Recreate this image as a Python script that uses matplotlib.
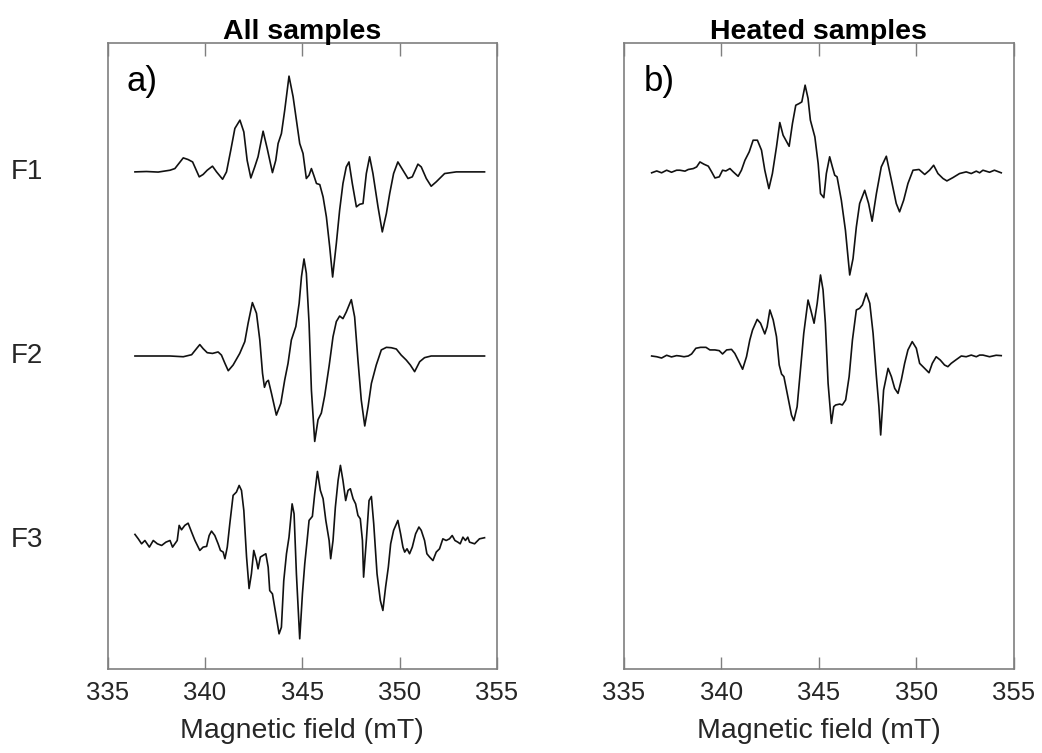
import matplotlib

matplotlib.use("Agg")
import matplotlib.pyplot as plt

plt.rcParams["font.family"] = ["Liberation Sans", "DejaVu Sans"]

# EPR first-derivative spectra (field in mT, amplitude in a.u.)
f1_all_field = [336.41, 337.00, 337.60, 338.21, 338.46, 338.89, 339.14, 339.37, 339.71,
                339.91, 340.12, 340.39, 340.60, 340.91, 341.11, 341.33, 341.54, 341.80,
                342.00, 342.17, 342.36, 342.56, 342.73, 342.99, 343.20, 343.47, 343.64,
                343.76, 343.93, 344.10, 344.32, 344.53, 344.70, 344.87, 345.04, 345.21,
                345.35, 345.47, 345.59, 345.73, 345.90, 346.07, 346.24, 346.41, 346.56,
                346.75, 346.92, 347.09, 347.26, 347.40, 347.57, 347.78, 347.95, 348.12,
                348.29, 348.46, 348.63, 348.89, 349.11, 349.32, 349.49, 349.69, 349.91,
                350.17, 350.43, 350.65, 350.94, 351.11, 351.37, 351.62, 351.88, 352.31,
                352.91, 353.59, 354.36]
f1_all_amp = [0.0, 0.2, -0.1, 0.9, 1.8, 7.6, 6.7, 5.4, -2.7,
              -1.4, 0.9, 3.1, 0.0, -4.0, 0.0, 11.8, 23.6, 28.1,
              21.7, 6.3, -3.3, 2.7, 8.2, 22.1, 12.7, -0.4, 6.3,
              15.4, 20.8, 33.5, 52.0, 40.8, 28.1, 15.4, 10.0, -3.6,
              -1.8, 1.8, -1.8, -6.3, -6.9, -13.6, -24.5, -40.8, -57.1,
              -38.9, -20.8, -6.3, 2.7, 5.4, -6.3, -19.0, -17.6, -17.2,
              -0.9, 8.2, -0.9, -19.0, -32.6, -22.6, -11.8, -0.9, 5.4,
              0.9, -3.6, -2.7, 4.2, 2.7, -3.6, -7.8, -5.4, -0.9,
              0.0, 0.0, 0.0]

f2_all_field = [336.41, 338.21, 338.89, 339.32, 339.57, 339.74, 339.91, 340.12, 340.39,
                340.68, 340.85, 341.03, 341.20, 341.45, 341.79, 342.05, 342.22, 342.44,
                342.65, 342.82, 342.96, 343.06, 343.16, 343.26, 343.42, 343.67, 343.90,
                344.10, 344.27, 344.44, 344.67, 344.84, 344.96, 345.09, 345.21, 345.35,
                345.47, 345.64, 345.81, 345.98, 346.15, 346.38, 346.58, 346.75, 346.92,
                347.09, 347.26, 347.52, 347.69, 347.86, 348.03, 348.21, 348.38, 348.55,
                348.80, 349.06, 349.32, 349.57, 349.83, 350.08, 350.34, 350.55, 350.77,
                351.03, 351.28, 351.62, 353.59, 354.36]
f2_all_amp = [0.0, 0.0, -0.4, 0.7, 4.0, 6.2, 4.0, 1.8, 1.4,
              2.2, 0.5, -4.0, -8.0, -4.9, 1.4, 7.8, 17.8, 29.0,
              23.2, 8.7, -9.4, -17.0, -14.1, -13.2, -20.3, -32.1, -25.7,
              -13.0, -4.0, 8.7, 16.0, 28.6, 43.1, 52.7, 44.9, 17.8,
              -18.5, -46.4, -34.6, -31.0, -21.7, -5.4, 10.5, 18.7, 21.7,
              20.3, 23.9, 30.6, 21.2, -2.2, -23.9, -38.0, -27.5, -14.9,
              -4.9, 3.3, 4.7, 4.5, 3.8, 0.5, -2.2, -4.9, -8.5,
              -3.1, -0.9, 0.0, 0.0, 0.0]

f3_all_field = [336.41, 336.58, 336.75, 336.92, 337.15, 337.35, 337.56, 337.78, 338.00,
                338.21, 338.34, 338.46, 338.58, 338.68, 338.80, 338.97, 339.14, 339.32,
                339.49, 339.74, 339.91, 340.09, 340.22, 340.34, 340.51, 340.68, 340.80,
                340.94, 341.03, 341.15, 341.28, 341.45, 341.62, 341.76, 341.88, 342.00,
                342.14, 342.27, 342.39, 342.51, 342.65, 342.73, 342.85, 342.99, 343.13,
                343.25, 343.33, 343.47, 343.64, 343.81, 343.93, 344.05, 344.19, 344.32,
                344.48, 344.58, 344.70, 344.87, 345.01, 345.13, 345.25, 345.35, 345.52,
                345.64, 345.78, 345.93, 346.07, 346.21, 346.38, 346.46, 346.58, 346.70,
                346.84, 346.96, 347.09, 347.23, 347.35, 347.47, 347.61, 347.74, 347.86,
                347.98, 348.09, 348.15, 348.29, 348.43, 348.55, 348.67, 348.84, 349.01,
                349.14, 349.28, 349.42, 349.54, 349.69, 349.91, 350.05, 350.17, 350.26,
                350.38, 350.51, 350.65, 350.82, 350.99, 351.11, 351.28, 351.40, 351.54,
                351.71, 351.88, 352.05, 352.22, 352.39, 352.56, 352.70, 352.84, 352.99,
                353.11, 353.25, 353.38, 353.50, 353.59, 353.85, 354.10, 354.36]
f3_all_amp = [3.1, 0.7, -2.0, -0.2, -3.8, -0.2, -2.0, -2.9, -1.1,
              -0.2, -3.8, -2.0, -0.2, 8.0, 5.6, 8.0, 9.2, 4.3,
              -0.2, -5.6, -3.8, -3.4, 2.5, 4.9, 2.5, -2.0, -5.6,
              -6.5, -10.1, -3.8, 8.9, 24.3, 26.1, 29.7, 27.0, 16.1,
              -9.1, -26.3, -18.3, -5.6, -11.1, -15.6, -9.2, -8.3, -7.4,
              -14.7, -27.4, -29.2, -40.0, -50.9, -47.3, -22.1, -7.4, 1.6,
              19.7, 14.3, -18.3, -53.6, -29.0, -12.7, -0.2, 10.7, 12.9,
              25.2, 37.3, 27.0, 22.5, 10.7, -0.2, -10.1, -0.2, 17.9,
              32.4, 40.6, 32.4, 21.5, 27.0, 27.9, 22.5, 19.7, 13.4,
              11.6, -0.2, -20.1, -0.2, 21.5, 23.7, 8.9, -18.3, -32.8,
              -38.2, -25.5, -14.7, -2.0, 5.3, 10.7, 3.4, -3.8, -6.5,
              -4.7, -7.4, -3.8, 3.4, 7.1, 5.3, -0.2, -7.4, -9.2,
              -11.1, -6.5, -4.7, 0.7, -0.2, 0.7, 2.5, -0.2, -1.1,
              -2.0, 1.6, -0.2, 1.6, -1.1, -2.0, 0.7, 1.3]

f1_heat_field = [336.42, 336.68, 336.93, 337.19, 337.44, 337.70, 337.87, 338.13, 338.30,
                 338.56, 338.73, 338.90, 339.10, 339.33, 339.50, 339.67, 339.89, 340.06,
                 340.23, 340.44, 340.61, 340.86, 341.03, 341.21, 341.43, 341.63, 341.85,
                 342.06, 342.23, 342.44, 342.62, 342.83, 343.00, 343.17, 343.31, 343.48,
                 343.65, 343.82, 343.99, 344.13, 344.30, 344.45, 344.57, 344.80, 344.97,
                 345.09, 345.26, 345.39, 345.56, 345.70, 345.82, 345.94, 346.16, 346.37,
                 346.59, 346.76, 346.93, 347.10, 347.36, 347.56, 347.74, 347.96, 348.21,
                 348.47, 348.73, 348.98, 349.15, 349.36, 349.58, 349.84, 350.15, 350.44,
                 350.69, 350.90, 351.12, 351.38, 351.58, 351.89, 352.23, 352.57, 352.83,
                 353.09, 353.26, 353.43, 353.77, 354.02, 354.37]
f1_heat_amp = [-0.5, 0.5, -0.5, 0.9, -0.2, 0.9, 0.9, 0.4, 1.3,
               1.8, 2.7, 5.4, 4.2, 3.1, 0.0, -3.3, -2.7, 0.9,
               0.5, 1.8, 0.0, -2.4, 0.9, 6.3, 10.9, 17.2, 17.2,
               11.8, 0.9, -9.1, -0.9, 13.6, 26.8, 19.9, 17.2, 13.9,
               26.3, 36.2, 37.1, 38.0, 47.1, 39.9, 28.1, 19.0, 4.5,
               -11.8, -14.0, -0.9, 8.2, 2.7, -1.8, -2.7, -15.4, -31.7,
               -56.0, -47.1, -29.9, -17.2, -10.0, -17.2, -26.8, -11.8, 2.7,
               8.5, -4.5, -17.2, -21.7, -15.4, -6.3, 0.9, 1.3, -1.4,
               0.9, 3.6, -0.9, -3.6, -4.9, -3.1, -0.9, 0.0, -0.9,
               0.4, -0.5, 0.9, -0.2, 0.9, -0.5]

f2_heat_field = [336.42, 336.68, 336.93, 337.19, 337.44, 337.70, 337.87, 338.08, 338.30,
                 338.47, 338.69, 338.93, 339.21, 339.41, 339.67, 339.89, 340.06, 340.27,
                 340.52, 340.69, 340.86, 341.09, 341.29, 341.46, 341.60, 341.84, 342.01,
                 342.23, 342.35, 342.49, 342.66, 342.83, 342.97, 343.09, 343.21, 343.38,
                 343.60, 343.72, 343.89, 344.06, 344.23, 344.45, 344.59, 344.76, 344.92,
                 345.09, 345.22, 345.34, 345.48, 345.65, 345.77, 345.87, 346.08, 346.21,
                 346.38, 346.56, 346.73, 346.93, 347.10, 347.24, 347.44, 347.62, 347.79,
                 347.96, 348.09, 348.18, 348.33, 348.56, 348.73, 348.90, 349.07, 349.24,
                 349.41, 349.58, 349.80, 350.01, 350.18, 350.35, 350.52, 350.66, 350.83,
                 351.03, 351.24, 351.46, 351.63, 351.80, 352.03, 352.32, 352.57, 352.83,
                 353.09, 353.26, 353.43, 353.77, 354.11, 354.37]
f2_heat_amp = [0.0, -0.4, -1.1, 0.4, -0.5, 0.2, 0.0, -0.4, 0.0,
               1.1, 4.2, 4.7, 4.7, 3.3, 3.3, 2.9, 1.1, 3.3,
               3.6, 1.4, -2.2, -7.2, -0.4, 8.7, 14.1, 19.9, 17.8,
               12.0, 15.9, 25.0, 19.6, 10.5, -4.9, -9.8, -11.2, -20.3,
               -32.1, -35.1, -27.5, -7.6, 12.3, 30.4, 25.0, 17.8, 28.6,
               44.0, 35.9, 17.8, -14.9, -36.6, -27.5, -26.6, -26.1, -26.6,
               -23.9, -11.2, 8.7, 25.0, 25.9, 27.7, 34.1, 28.6, 12.3,
               -11.2, -27.5, -42.9, -18.5, -6.7, -11.2, -17.6, -20.3, -13.0,
               -4.0, 3.3, 7.8, 4.2, -4.0, -5.8, -7.6, -9.1, -4.0,
               -0.4, -2.2, -4.9, -5.8, -4.0, -2.2, 0.0, -0.4, 0.5,
               -0.4, 0.5, 0.5, -0.4, 0.4, 0.2]

sample_labels = ["F1", "F2", "F3"]
panel_titles = ["All samples", "Heated samples"]
panel_tags = ["a)", "b)"]
x_ticks = [335, 340, 345, 350, 355]

STACK_STEP = 100.0  # vertical offset between stacked spectra
SPINE = "#7f7f7f"
TEXT = "#262626"

fig = plt.figure(figsize=(10.42, 7.53), dpi=100)
W, H = 1042.0, 753.0
ax_a = fig.add_axes([107.5 / W, (H - 669) / H, 389.5 / W, 626 / H])
ax_b = fig.add_axes([624 / W, (H - 669) / H, 389.5 / W, 626 / H])

traces_a = [(f1_all_field, f1_all_amp), (f2_all_field, f2_all_amp), (f3_all_field, f3_all_amp)]
traces_b = [(f1_heat_field, f1_heat_amp), (f2_heat_field, f2_heat_amp)]

for ax, traces, title, tag in zip([ax_a, ax_b], [traces_a, traces_b], panel_titles, panel_tags):
    for i, (fx, fy) in enumerate(traces):
        ax.plot(fx, [v - i * STACK_STEP for v in fy], color="#111111", lw=1.2,
                solid_joinstyle="round")
    ax.set_xlim(335, 355)
    ax.set_ylim(-270, 70)
    ax.set_xticks(x_ticks)
    ax.set_yticks([])
    ax.tick_params(axis="x", direction="in", length=9, width=1.0, color=SPINE,
                   top=True, labelsize=18.5, labelcolor=TEXT, pad=9)
    for s in ax.spines.values():
        s.set_color(SPINE)
        s.set_linewidth(1.2)
    ax.set_xlabel("Magnetic field (mT)", fontsize=20.5, color=TEXT, labelpad=9)
    ax.set_title(title, fontsize=20.5, fontweight="bold", pad=3)
    ax.text(0.05, 0.965, tag, transform=ax.transAxes, fontsize=25, color="black",
            ha="left", va="top")

for i, lab in enumerate(sample_labels):
    y_px = 172 + i * 184
    fig.text(27 / W, 1 - y_px / H, lab, fontsize=20, color=TEXT, ha="center", va="center")

fig.savefig("out.png", dpi=100)
